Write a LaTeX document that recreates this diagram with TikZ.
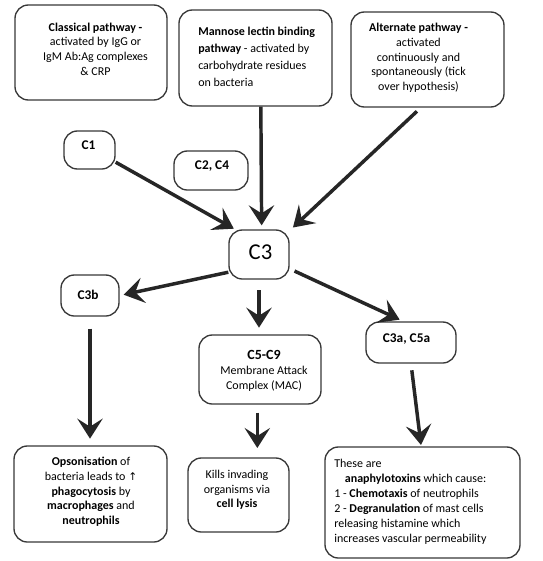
\documentclass[tikz,border=0pt]{standalone}
\usepackage{fontspec}
\setmainfont{Carlito}
\newfontfamily\symfont{DejaVu Sans}
\usetikzlibrary{arrows.meta}
\begin{document}
\begin{tikzpicture}[x=0.75pt,y=-0.75pt,
  box/.style={draw=black!78, line width=1pt, rounded corners=10pt, inner sep=0pt},
  txt/.style={inner sep=0pt, font=\fontsize{9}{11}\selectfont, align=center, text=black},
  lbl/.style={inner sep=0pt, font=\bfseries\fontsize{10}{12}\selectfont},
  arr/.style={draw=black!85, line width=2.6pt, -{Stealth[length=15pt,width=19pt,inset=6pt]}}
]
\useasboundingbox[fill=white] (0,0) rectangle (543,561);

% boxes
\node[box, minimum width=152*0.75pt, minimum height=95*0.75pt] (classical) at (91,52.5) {};
\node[box, minimum width=153*0.75pt, minimum height=96*0.75pt] (mannose) at (255.5,58) {};
\node[box, minimum width=153*0.75pt, minimum height=95*0.75pt] (alternate) at (427.5,59.5) {};
\node[box, minimum width=51*0.75pt, minimum height=38*0.75pt] (c1) at (89.5,150) {};
\node[box, minimum width=74*0.75pt, minimum height=39*0.75pt] (c2c4) at (211,170.5) {};
\node[box, minimum width=60*0.75pt, minimum height=49*0.75pt] (c3) at (259,254.5) {};
\node[box, minimum width=58*0.75pt, minimum height=41*0.75pt] (c3b) at (90,295.5) {};
\node[box, minimum width=122*0.75pt, minimum height=69*0.75pt] (c5c9) at (260,369.5) {};
\node[box, minimum width=90*0.75pt, minimum height=41*0.75pt] (c3a) at (411,342.5) {};
\node[box, minimum width=153*0.75pt, minimum height=96*0.75pt] (opson) at (90.5,494) {};
\node[box, minimum width=101*0.75pt, minimum height=74*0.75pt] (kills) at (238.5,495) {};
\node[box, minimum width=195*0.75pt, minimum height=111*0.75pt] (these) at (422.5,502.5) {};

% texts
\node[txt] (tclassical) at (95.5,49) {\textbf{Classical pathway -}\\activated by IgG or\\IgM Ab:Ag complexes\\\& CRP};
\node[txt, align=left, anchor=west, font=\fontsize{9}{12.75}\selectfont] (tmannose) at (198,57) {\textbf{Mannose lectin binding}\\\textbf{pathway} - activated by\\carbohydrate residues\\on bacteria};
\node[txt] (talternate) at (418.5,58) {\textbf{Alternate pathway -}\\activated\\continuously and\\spontaneously (tick\\over hypothesis)};
\node[lbl] (tc1) at (88.5,145) {C1};
\node[lbl] (tc2c4) at (212,166.5) {C2, C4};
\node[inner sep=0pt, font=\fontsize{17}{20}\selectfont] (tc3) at (260.5,252) {C3};
\node[lbl] (tc3b) at (88,295) {C3b};
\node[txt] (tc5c9) at (264,371) {{\bfseries\fontsize{10.5}{11}\selectfont C5-C9}\\Membrane Attack\\Complex (MAC)};
\node[lbl] (tc3a) at (406.5,339) {C3a, C5a};
\node[txt] (topson) at (91,492) {\textbf{Opsonisation} of\\bacteria leads to {\symfont\fontsize{8}{11}\selectfont ↑}\\\textbf{phagocytosis} by\\\textbf{macrophages} and\\\textbf{neutrophils}};
\node[txt] (tkills) at (237,490) {Kills invading\\organisms via\\\textbf{cell lysis}};
\node[txt, align=left, anchor=west, font=\fontsize{9}{11.25}\selectfont] (tthese) at (334,501.5) {These are\\\hspace*{8pt}\textbf{anaphylotoxins} which cause:\\1 - \textbf{Chemotaxis} of neutrophils\\2 - \textbf{Degranulation} of mast cells\\releasing histamine which\\increases vascular permeability};

% connectors
\draw[arr, shorten >=1pt] (c1.-25) -- ([xshift=5pt]c3.north west);
\draw[arr, shorten >=3pt] ([xshift=4pt]mannose.south) -- ([xshift=2pt]c3.north);
\draw[arr, shorten <=4pt, shorten >=2pt] ([xshift=-5pt]alternate.south) -- ([xshift=1pt]c3.north east);
\draw[arr, shorten >=3pt] (c3.210) -- (c3b.east);
\draw[arr, shorten <=8pt, shorten >=5pt] (c3.south) -- (c3.south |- c5c9.north);
\draw[arr, shorten <=4pt, shorten >=3pt] (c3.-25) -- (c3a.110);
\draw[arr, shorten <=9pt, shorten >=5pt] (c3b.south) -- (c3b.south |- opson.north);
\draw[arr, shorten <=6pt, shorten >=7pt] ([xshift=-2pt]c5c9.south) -- ([xshift=-2pt]c5c9.south |- kills.north);
\draw[arr, shorten <=5pt, shorten >=1pt] (c3a.south) -- ([xshift=-1pt]these.north);
\end{tikzpicture}
\end{document}
